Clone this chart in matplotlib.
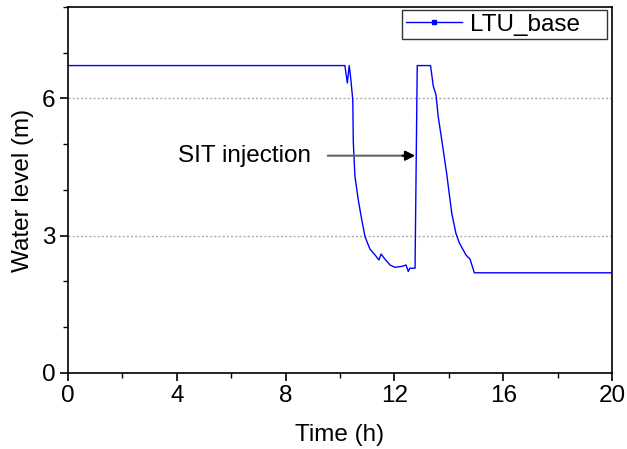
import matplotlib.pyplot as plt
from matplotlib.ticker import MultipleLocator
from matplotlib.lines import Line2D

plt.rcParams['font.family'] = ['Liberation Sans', 'DejaVu Sans']

# water level
time_h = [0.0, 10.18, 10.27, 10.34, 10.40, 10.47, 10.49, 10.55, 10.67, 10.80,
          10.92, 11.10, 11.29, 11.43, 11.51, 11.65, 11.84, 12.02, 12.27, 12.43,
          12.51, 12.57, 12.76, 12.84, 13.33, 13.43, 13.53, 13.61, 13.74, 13.92,
          14.11, 14.26, 14.39, 14.53, 14.63, 14.78, 14.94, 20.0]
level_m = [6.72, 6.72, 6.34, 6.72, 6.41, 5.97, 5.03, 4.30, 3.79, 3.35,
           2.98, 2.71, 2.58, 2.47, 2.60, 2.49, 2.36, 2.31, 2.33, 2.36,
           2.22, 2.29, 2.29, 6.72, 6.72, 6.27, 6.08, 5.61, 5.10, 4.37,
           3.49, 3.06, 2.84, 2.69, 2.58, 2.49, 2.19, 2.19]

fs = 17.5

fig = plt.figure(figsize=(6.27, 4.49), dpi=100)
ax = fig.add_axes([0.1085, 0.1693, 0.8675, 0.8151])

ax.plot(time_h, level_m, color='#0000ff', lw=1.0)
# legend handle: line with small square marker in the middle
handle = Line2D([0], [0], color='#0000ff', lw=1.0, marker='s', markersize=3.5)

ax.set_xlim(0, 20)
ax.set_ylim(0, 8)
ax.xaxis.set_major_locator(MultipleLocator(4))
ax.xaxis.set_minor_locator(MultipleLocator(2))
ax.yaxis.set_major_locator(MultipleLocator(3))
ax.yaxis.set_minor_locator(MultipleLocator(1))
ax.tick_params(axis='both', which='major', direction='out', length=6,
               width=1.2, labelsize=fs, top=False, right=False, pad=3)
ax.tick_params(axis='both', which='minor', direction='out', length=3.5,
               width=1.0, top=False, right=False)
ax.yaxis.grid(True, which='major', color='#aaaaaa', linestyle=(0, (1.5, 1.5)), lw=1.0)
for s in ax.spines.values():
    s.set_linewidth(1.2)

ax.set_xlabel('Time (h)', fontsize=fs, labelpad=12)
ax.set_ylabel('Water level (m)', fontsize=fs, labelpad=6)

ax.annotate('', xy=(12.76, 4.75), xytext=(9.55, 4.75),
            arrowprops=dict(arrowstyle='-|>', color='#666666', lw=1.5,
                            mutation_scale=14, shrinkA=0, shrinkB=0))
ax.annotate('', xy=(12.76, 4.75), xytext=(12.3, 4.75),
            arrowprops=dict(arrowstyle='-|>', color='black', lw=1.5,
                            mutation_scale=14, shrinkA=0, shrinkB=0))
ax.text(4.04, 4.75, 'SIT injection', fontsize=fs, va='center', ha='left')

leg = ax.legend([handle], ['LTU_base'], loc='upper left', fontsize=fs,
                bbox_to_anchor=(0.614, 0.907, 0.377, 0.085), mode='expand',
                frameon=True, fancybox=False, edgecolor='black',
                handlelength=2.3, borderpad=0.15, handletextpad=0.35,
                borderaxespad=0)
leg.get_frame().set_linewidth(1.0)

fig.savefig('out.png', dpi=100)
